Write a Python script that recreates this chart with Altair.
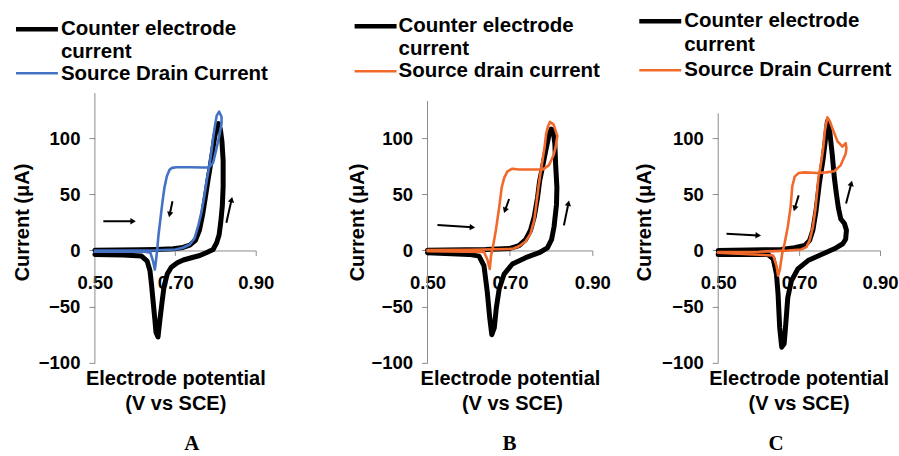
import math
import altair as alt
import pandas as pd

# ---------------- data ----------------
x_ticks = [0.50, 0.70, 0.90]
y_ticks = [-100, -50, 0, 50, 100]

# Panel A
a_ce_v = [0.500, 0.612, 0.653, 0.695, 0.719, 0.736, 0.750, 0.760, 0.768, 0.775, 0.781, 0.787, 0.793, 0.798, 0.803, 0.807,
          0.812, 0.816, 0.819, 0.819, 0.817, 0.813, 0.809, 0.803, 0.794, 0.777, 0.761, 0.740, 0.720, 0.705, 0.690, 0.680,
          0.672, 0.666, 0.661, 0.657, 0.652, 0.649, 0.645, 0.641, 0.637, 0.630, 0.616, 0.570, 0.500]
a_ce_i = [0.3, 0.6, 0.9, 1.5, 2.7, 4.7, 9, 18, 32, 48, 62, 75, 89, 101, 110, 113,
          108, 97, 80, 57, 40, 25, 14, 7, 0.9, -2, -4.5, -6.5, -8.5, -11, -15, -21,
          -32, -49, -64, -77, -73, -61, -46, -31, -18, -9.5, -5, -4.1, -3.6]
a_sd_v = [0.500, 0.600, 0.653, 0.700, 0.719, 0.736, 0.748, 0.757, 0.765, 0.772, 0.778, 0.784, 0.789, 0.794, 0.799, 0.803, 0.809,
          0.815, 0.815, 0.809, 0.802, 0.794, 0.784, 0.769, 0.736, 0.703, 0.692, 0.686, 0.679, 0.673, 0.668, 0.663, 0.658,
          0.655, 0.652, 0.649, 0.645, 0.638, 0.624, 0.500]
a_sd_i = [0, 0, 0.2, 0.8, 2.4, 5.3, 11, 22, 34, 48, 62, 74, 86, 100, 112, 120, 123.5,
          119, 113, 101.5, 90, 78, 74, 73.8, 74, 74, 73.5, 72, 66, 56, 43, 28, 13,
          1, -9, -17, -10, -2, -1.2, -1.2]
a_arrow_v1 = [0.521, 0.693, 0.827]
a_arrow_i1 = [26, 43.8, 24.6]
a_arrow_v2 = [0.595, 0.686, 0.840]
a_arrow_i2 = [26, 32, 45.3]

# Panel B
b_ce_v = [0.500, 0.641, 0.698, 0.722, 0.738, 0.750, 0.759, 0.767, 0.772, 0.780, 0.788, 0.795, 0.800, 0.805,
          0.809, 0.811, 0.814, 0.813, 0.807, 0.801, 0.791, 0.771, 0.738, 0.706, 0.686, 0.674, 0.667, 0.662,
          0.656, 0.651, 0.645, 0.637, 0.625, 0.601, 0.500]
b_ce_i = [0.3, 0.9, 1.7, 4.3, 9.6, 18, 30, 47, 61.7, 76, 90.7, 103, 108, 107,
          95, 76, 56, 41, 21, 9.6, 2.3, -2, -6.4, -12, -21, -34, -51, -69,
          -75, -60, -37, -13.6, -5, -3.5, -2]
b_sd_v = [0.500, 0.600, 0.706, 0.722, 0.738, 0.750, 0.759, 0.764, 0.769, 0.773, 0.779, 0.784, 0.788, 0.792, 0.797,
          0.806, 0.815, 0.811, 0.806, 0.795, 0.779, 0.755, 0.722, 0.706, 0.694, 0.686, 0.680, 0.674, 0.666, 0.659,
          0.654, 0.651, 0.645, 0.637, 0.500]
b_sd_i = [0.3, 0.5, 1.4, 3.8, 8, 15, 27, 41, 56, 66, 80, 92, 104, 110, 114.4,
          112, 102, 92, 85, 76, 72, 72, 72, 72.8, 70.4, 64.6, 56, 38.5, 18.3, 3.8,
          -5, -16.5, -7.8, -1.4, -0.6]
b_arrow_v1 = [0.524, 0.698, 0.831]
b_arrow_i1 = [22.6, 45.8, 22.3]
b_arrow_v2 = [0.609, 0.688, 0.842]
b_arrow_i2 = [20.6, 35.6, 42]

# Panel C
c_ce_v = [0.500, 0.656, 0.689, 0.714, 0.726, 0.734, 0.742, 0.750, 0.759, 0.765, 0.770,
          0.776, 0.782, 0.787, 0.792, 0.797, 0.803, 0.812, 0.817, 0.815, 0.808, 0.787, 0.755, 0.722, 0.697,
          0.681, 0.672, 0.667, 0.663, 0.657, 0.652, 0.648, 0.644, 0.636, 0.623, 0.500]
c_ce_i = [0, 0.9, 2.4, 4.5, 9, 18, 35.8, 59.7, 80.6, 98.5, 115,
          105, 85, 65, 50.7, 38, 28, 24, 18, 10, 6, 1.5, -3.6, -9, -16.4,
          -27, -41.8, -65.7, -83, -86, -68.7, -39, -21, -7.5, -3.6, -3.6]
c_sd_v = [0.500, 0.600, 0.672, 0.705, 0.718, 0.726, 0.734, 0.740, 0.745, 0.748, 0.753, 0.759, 0.764, 0.770,
          0.776, 0.782, 0.795, 0.807, 0.815, 0.817, 0.815, 0.803, 0.787, 0.767, 0.746, 0.714, 0.699, 0.689,
          0.683, 0.679, 0.672, 0.664, 0.658, 0.652, 0.648, 0.644, 0.636, 0.500]
c_sd_i = [-1.5, -1.2, 0, 0.9, 3, 9, 21, 36, 54, 65.7, 74.6, 89.6, 107.5, 118.5,
          115, 109, 97, 92.5, 95.5, 91, 86, 76, 70.5, 69.5, 69, 69.5, 69, 65.7,
          56.7, 38.8, 21, 6, -3, -18, -22.4, -13.4, -4.5, -2]
c_arrow_v1 = [0.5205, 0.699, 0.816]
c_arrow_i1 = [14.9, 49, 41.8]
c_arrow_v2 = [0.599, 0.689, 0.829]
c_arrow_i2 = [13.4, 37.3, 59.7]

y_axis_top = [140, 133, 122]
legend_ce = "Counter electrode"
legend_ce2 = "current"
legend_sd = ["Source Drain Current", "Source drain current", "Source Drain Current"]
panel_letters = ["A", "B", "C"]

# ---------------- styling ----------------
FONT = "Liberation Sans"
SERIF = "Liberation Serif"
GRAY = "#8C8C8C"
BLUE = "#4472C4"
ORANGE = "#F26A2B"
X_DOM = [0.5, 0.9]
Y_DOM = [-100, 140]
H = 270
PX_I = H / (Y_DOM[1] - Y_DOM[0])


def txt(s, x, y, size, font=FONT, weight="bold", align="left", baseline="alphabetic"):
    return alt.Chart(pd.DataFrame({"t": [s]})).mark_text(
        font=font, fontSize=size, fontWeight=weight, align=align, baseline=baseline, color="black"
    ).encode(text="t:N", x=alt.value(x), y=alt.value(y))


def seg(x1, x2, y, color, w):
    return alt.Chart(pd.DataFrame({"a": [0]})).mark_rule(color=color, strokeWidth=w, strokeCap="butt").encode(
        x=alt.value(x1), x2=alt.value(x2), y=alt.value(y))


def panel(ce_v, ce_i, sd_v, sd_i, av1, ai1, av2, ai2, width, color, ytop, sd_label, letter, lay):
    px_v = width / (X_DOM[1] - X_DOM[0])
    xaxis = alt.Axis(values=x_ticks, format=".2f", offset=-(0 - Y_DOM[0]) * PX_I, domainColor=GRAY,
                     tickColor=GRAY, tickSize=5, labelPadding=18, labelFont=FONT, labelFontWeight="bold",
                     labelFontSize=18.5, labelColor="black", labelFlush=False, grid=False, title=None)
    yaxis = alt.Axis(values=y_ticks, domain=False, tickColor=GRAY, tickSize=6, labelPadding=9, labelFont=FONT,
                     labelFontWeight="bold", labelFontSize=18.5, labelColor="black", grid=False,
                     title="Current (\u03bcA)", titleFont=FONT, titleFontWeight="bold", titleFontSize=20,
                     titleColor="black", titleAngle=270, titleX=lay["ytx"], titleY=129, titleAlign="center",
                     titleBaseline="middle")
    xs = alt.Scale(domain=X_DOM, nice=False, zero=False)
    ys = alt.Scale(domain=Y_DOM, nice=False, zero=False)
    X = alt.X("v:Q", scale=xs, axis=xaxis)
    Y = alt.Y("i:Q", scale=ys, axis=yaxis)

    axis_line = alt.Chart(pd.DataFrame({"v": [X_DOM[0]], "i": [Y_DOM[0]], "i2": [ytop]})).mark_rule(
        color=GRAY, strokeWidth=1).encode(x=X, y=Y, y2="i2:Q")
    ce = alt.Chart(pd.DataFrame({"v": ce_v, "i": ce_i, "k": list(range(len(ce_v)))})).mark_line(
        color="black", strokeWidth=5, strokeJoin="round", strokeCap="round").encode(x=X, y=Y, order="k:Q")
    sd = alt.Chart(pd.DataFrame({"v": sd_v, "i": sd_i, "k": list(range(len(sd_v)))})).mark_line(
        color=color, strokeWidth=2.6, strokeJoin="round", strokeCap="round").encode(x=X, y=Y, order="k:Q")

    angs = []
    for a, b, c, d in zip(av1, ai1, av2, ai2):
        dx = (c - a) * px_v
        dy = -(d - b) * PX_I
        angs.append(math.degrees(math.atan2(dy, dx)) % 360)
    shafts = alt.Chart(pd.DataFrame({"v": av1, "i": ai1, "v2": av2, "i2": ai2})).mark_rule(
        color="black", strokeWidth=2).encode(x=X, y=Y, x2="v2:Q", y2="i2:Q")
    heads = alt.Chart(pd.DataFrame({"v": av2, "i": ai2, "ang": angs})).mark_point(
        shape="triangle-right", filled=True, size=40, color="black", opacity=1).encode(
        x=X, y=Y, angle=alt.Angle("ang:Q", scale=None))

    lx1, lx2, tx = lay["lx1"], lay["lx2"], lay["tx"]
    layers = [
        axis_line, ce, sd, shafts, heads,
        seg(lx1, lx2, lay["l1"], "black", 4.5),
        txt(legend_ce, tx, lay["b1"], 20.5),
        txt(legend_ce2, tx, lay["b2"], 20.5),
        seg(lx1, lx2, lay["l2"], color, 2.5),
        txt(sd_label, tx, lay["b3"], 20.5),
        txt("Electrode potential", lay["tc"], 292, 20, align="center"),
        txt("(V vs SCE)", lay["tc2"], 317, 20, align="center"),
        txt(letter, lay["lc"], 357, 21, font=SERIF, align="center"),
    ]
    return alt.layer(*layers).properties(width=width, height=H)


def spacer(w):
    return alt.Chart(pd.DataFrame({"a": [0]})).mark_point(opacity=0).encode(
        x=alt.value(0), y=alt.value(0)).properties(width=w, height=H)


layA = dict(lx1=-79, lx2=-37, tx=-34, l1=-64, l2=-20, b1=-58, b2=-35, b3=-13, tc=81, tc2=81, lc=97, ytx=-72)
layB = dict(lx1=-73, lx2=-31, tx=-29, l1=-67, l2=-22, b1=-61, b2=-38, b3=-16, tc=83, tc2=85, lc=82, ytx=-70)
layC = dict(lx1=-79, lx2=-37, tx=-34, l1=-72, l2=-23, b1=-66, b2=-42, b3=-17, tc=81, tc2=81, lc=58, ytx=-74)

pA = panel(a_ce_v, a_ce_i, a_sd_v, a_sd_i, a_arrow_v1, a_arrow_i1, a_arrow_v2, a_arrow_i2,
           161, BLUE, y_axis_top[0], legend_sd[0], panel_letters[0], layA)
pB = panel(b_ce_v, b_ce_i, b_sd_v, b_sd_i, b_arrow_v1, b_arrow_i1, b_arrow_v2, b_arrow_i2,
           165, ORANGE, y_axis_top[1], legend_sd[1], panel_letters[1], layB)
pC = panel(c_ce_v, c_ce_i, c_sd_v, c_sd_i, c_arrow_v1, c_arrow_i1, c_arrow_v2, c_arrow_i2,
           162, ORANGE, y_axis_top[2], legend_sd[2], panel_letters[2], layC)

chart = alt.hconcat(pA, spacer(172), pB, spacer(126), pC, spacing=0, bounds="flush").properties(
    padding={"left": 13, "top": 11, "right": 0, "bottom": 0}, background="white"
).configure_view(stroke=None)

chart.save("out.html", embed_options={"renderer": "svg", "actions": False})
